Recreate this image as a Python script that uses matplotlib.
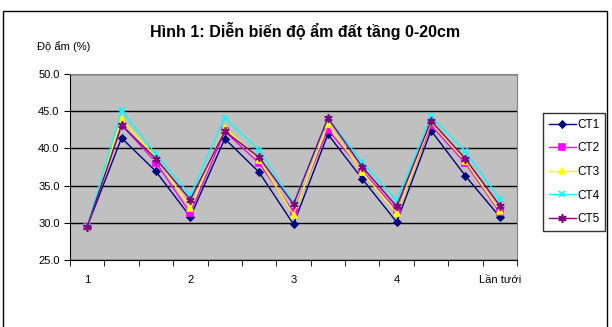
import matplotlib.pyplot as plt
from matplotlib.patches import Rectangle

plt.rcParams['font.family'] = ['Liberation Sans', 'DejaVu Sans']

# soil moisture (%) of the 0-20cm layer over successive irrigations
lan = list(range(1, 14))
CT1 = [29.5, 41.4, 36.9, 30.8, 41.3, 36.8, 29.8, 41.9, 35.9, 30.1, 42.4, 36.3, 30.8]
CT2 = [29.5, 43.2, 38.1, 31.3, 42.3, 38.0, 31.5, 42.5, 37.0, 31.7, 43.1, 38.0, 31.4]
CT3 = [29.5, 43.9, 38.8, 32.0, 42.8, 38.5, 31.1, 43.3, 36.8, 31.3, 43.5, 38.3, 31.6]
CT4 = [29.5, 45.1, 39.2, 33.7, 44.1, 39.8, 32.6, 44.0, 38.2, 33.0, 44.3, 39.6, 33.2]
CT5 = [29.5, 43.1, 38.6, 33.1, 42.3, 38.8, 32.5, 44.1, 37.5, 32.2, 43.7, 38.6, 32.3]
tick_pos = [1, 4, 7, 10, 13]
tick_labels = ['1', '2', '3', '4', 'Lần tưới']

fig = plt.figure(figsize=(6.12, 3.27), dpi=100)
ax = fig.add_axes([70/612, 1 - 260/327, 447/612, 186/327])
ax.set_facecolor('#C0C0C0')

series = [
    ('CT1', CT1, '#000080', 'D', 3.5),
    ('CT2', CT2, '#FF00FF', 's', 4),
    ('CT3', CT3, '#FFFF00', '^', 5),
    ('CT4', CT4, '#00FFFF', 'x', 5),
    ('CT5', CT5, '#800080', (6, 2, 0), 6),
]
for name, vals, col, mk, ms in series:
    ax.plot(lan, vals, color=col, marker=mk, markersize=ms, lw=1,
            markeredgecolor=col, markerfacecolor=col, markeredgewidth=1.2,
            label=name)

ax.set_ylim(25, 50)
ax.set_yticks([25, 30, 35, 40, 45, 50])
ax.set_yticklabels(['%.1f' % v for v in [25, 30, 35, 40, 45, 50]])
ax.yaxis.grid(True, color='black', lw=1)
ax.set_axisbelow(True)

ax.set_xlim(0.5, 13.5)
ax.set_xticks(tick_pos)
ax.set_xticklabels(tick_labels)
ax.set_xticks([i + 0.5 for i in range(0, 14)], minor=True)
ax.tick_params(axis='x', which='major', length=0, pad=11, labelsize=8)
ax.tick_params(axis='x', which='minor', length=4, direction='out')
ax.tick_params(axis='y', length=4, direction='out', labelsize=8)

for s in ['top', 'right']:
    ax.spines[s].set_color('#808080')
for s in ['left', 'bottom']:
    ax.spines[s].set_color('black')

fig.text(305/612, 1 - 31/327, 'Hình 1: Diễn biến độ ẩm đất tầng 0-20cm',
         ha='center', va='center', fontsize=11.5, fontweight='bold')
fig.text(37/612, 1 - 47/327, 'Độ ẩm (%)', ha='left', va='center', fontsize=8)

leg = fig.legend(loc='upper left', bbox_to_anchor=(543/612, 1 - 113/327),
                 frameon=True, fancybox=False, edgecolor='black',
                 fontsize=8.5, handlelength=2.3, handletextpad=0.1,
                 labelspacing=0.98, borderpad=0.5, borderaxespad=0)
leg.get_frame().set_linewidth(1)

fig.patches.append(Rectangle((3/612, -0.05), 604/612, 1.05 - 11/327,
                             transform=fig.transFigure, fill=False,
                             edgecolor='black', lw=1))

fig.savefig('out.png', dpi=100)
